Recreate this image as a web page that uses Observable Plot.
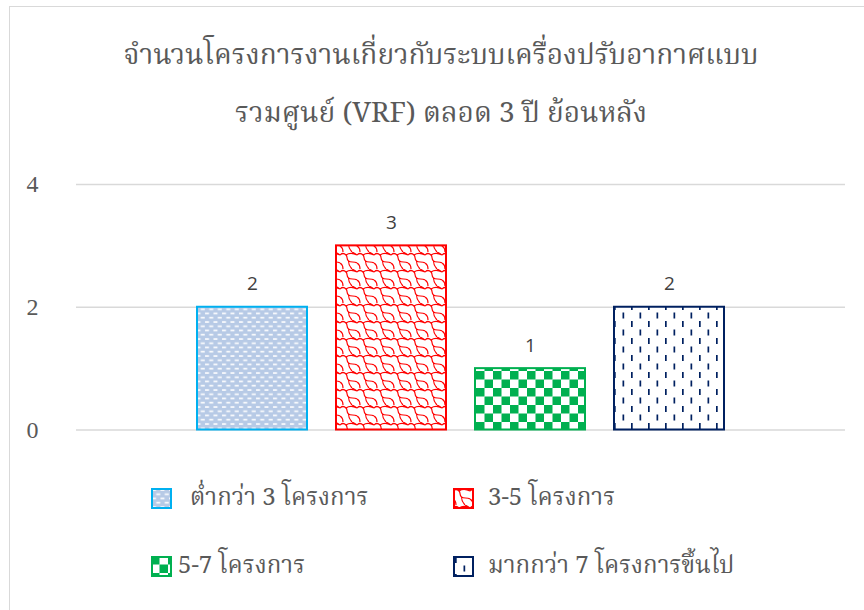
<!DOCTYPE html>
<html>
<head>
<meta charset="utf-8">
<script src="https://cdn.jsdelivr.net/npm/d3@7"></script>
<script src="https://cdn.jsdelivr.net/npm/@observablehq/plot@0.6"></script>
<style>
  html, body { margin: 0; padding: 0; background: #fff; }
  #wrap { position: relative; width: 864px; height: 610px; overflow: hidden; }
  #frame { position: absolute; left: 9px; top: 6px; width: 1000px; height: 1000px;
           border-left: 1.5px solid #d9d9d9; border-top: 1.5px solid #d9d9d9; }
  .thai { font-family: "Noto Serif Thai", "Noto Sans Thai", "Norasi", "Loma", "Liberation Serif", serif; color: #595959; }
  #title { position: absolute; left: 0; width: 882px; top: 28px; text-align: center; font-size: 28px; line-height: 58px; }
  #chart { position: absolute; left: 0; top: 150px; }
  .leg { position: absolute; display: flex; align-items: center; font-size: 24px; white-space: nowrap; }
  .leg svg { display: block; }
</style>
</head>
<body>
<div id="wrap">
  <div id="frame"></div>
  <svg width="0" height="0" style="position:absolute">
    <defs>
      <pattern id="pBlue" patternUnits="userSpaceOnUse" width="8.5" height="8.5">
        <rect width="8.5" height="8.5" fill="#b7cae6"/>
        <rect x="1" y="1.2" width="4" height="1.6" fill="#ffffff"/>
        <rect x="5.25" y="5.45" width="4" height="1.6" fill="#ffffff"/>
        <rect x="-3.25" y="5.45" width="4" height="1.6" fill="#ffffff"/>
      </pattern>
      <pattern id="pRed" patternUnits="userSpaceOnUse" width="17" height="17">
        <rect width="17" height="17" fill="#ffffff"/>
        <path d="M0,3 C2,1 4,1 6,3 C8,5 6,7 8.5,9 C11,11 14,9 17,11 M6,3 C9,1 13,1 17,3 M0,11 C2,12 3,14 3,17 M3,0 L3,0 M8.5,9 C8.5,12 10,15 12,17 M12,0 C14,1 16,2 17,3"
              fill="none" stroke="#ff0000" stroke-width="1.2"/>
      </pattern>
      <pattern id="pGreen" patternUnits="userSpaceOnUse" width="17" height="17">
        <rect width="17" height="17" fill="#ffffff"/>
        <rect x="0" y="0" width="8.5" height="8.5" fill="#00b050"/>
        <rect x="8.5" y="8.5" width="8.5" height="8.5" fill="#00b050"/>
      </pattern>
      <pattern id="pNavy" patternUnits="userSpaceOnUse" width="17" height="17">
        <rect width="17" height="17" fill="#ffffff"/>
        <rect x="2" y="1" width="1.7" height="6" fill="#002060"/>
        <rect x="10.5" y="9.5" width="1.7" height="6" fill="#002060"/>
      </pattern>
    </defs>
  </svg>
  <div id="title" class="thai">จำนวนโครงการงานเกี่ยวกับระบบเครื่องปรับอากาศแบบ<br>รวมศูนย์ (VRF) ตลอด 3 ปี ย้อนหลัง</div>
  <div id="chart"></div>
</div>
<script>
// ---- data ----
const categories = ["ต่ำกว่า 3 โครงการ", "3-5 โครงการ", "5-7 โครงการ", "มากกว่า 7 โครงการขึ้นไป"];
const counts = [2, 3, 1, 2];
const yTicks = [0, 2, 4];

// ---- styles (separate from data) ----
const fills = ["url(#pBlue)", "url(#pRed)", "url(#pGreen)", "url(#pNavy)"];
const strokes = ["#00b0f0", "#ff0000", "#00b050", "#002060"];

const data = categories.map((c, i) => ({cat: c, n: counts[i], i}));

const barMarks = data.map((d, i) =>
  Plot.barY([d], {x: "cat", y: "n", fill: fills[i], stroke: strokes[i], strokeWidth: 2, inset: 0})
);

const chart = Plot.plot({
  width: 864,
  height: 300,
  marginLeft: 76,
  marginRight: 19,
  marginTop: 34,
  marginBottom: 20.5,
  x: {domain: categories, paddingInner: 0.21, paddingOuter: 0.87, axis: null},
  y: {domain: [0, 4], ticks: yTicks},
  marks: [
    Plot.gridY(yTicks, {stroke: "#d9d9d9", strokeOpacity: 1, strokeWidth: 1.5}),
    Plot.axisY(yTicks, {tickSize: 0, tickPadding: 38, tickFormat: "d", fontSize: 24,
      fontFamily: "Liberation Serif, serif", fill: "#595959", label: null}),
    ...barMarks,
    Plot.text(data, {x: "cat", y: "n", text: d => String(d.n), dy: -17, lineAnchor: "bottom",
      fontSize: 19, fontFamily: "Open Sans, sans-serif", fill: "#404040"})
  ]
});
document.getElementById("chart").appendChild(chart);

// ---- legend (HTML, below the SVG) ----
const legendPos = [
  {sx: 151, tx: 190, y: 498},
  {sx: 453, tx: 488, y: 498},
  {sx: 151, tx: 178, y: 566},
  {sx: 453, tx: 488, y: 566}
];
const wrap = document.getElementById("wrap");
categories.forEach((c, i) => {
  const p = legendPos[i];
  const sw = document.createElementNS("http://www.w3.org/2000/svg", "svg");
  sw.setAttribute("width", 21); sw.setAttribute("height", 21);
  sw.style.position = "absolute"; sw.style.left = p.sx + "px"; sw.style.top = (p.y - 10.5) + "px";
  const r = document.createElementNS("http://www.w3.org/2000/svg", "rect");
  r.setAttribute("x", 1); r.setAttribute("y", 1); r.setAttribute("width", 19); r.setAttribute("height", 19);
  r.setAttribute("fill", fills[i]); r.setAttribute("stroke", strokes[i]); r.setAttribute("stroke-width", 2);
  sw.appendChild(r);
  wrap.appendChild(sw);
  const t = document.createElement("div");
  t.className = "leg thai";
  t.style.left = p.tx + "px"; t.style.top = (p.y - 20) + "px"; t.style.height = "40px";
  t.textContent = c;
  wrap.appendChild(t);
});
</script>
</body>
</html>
